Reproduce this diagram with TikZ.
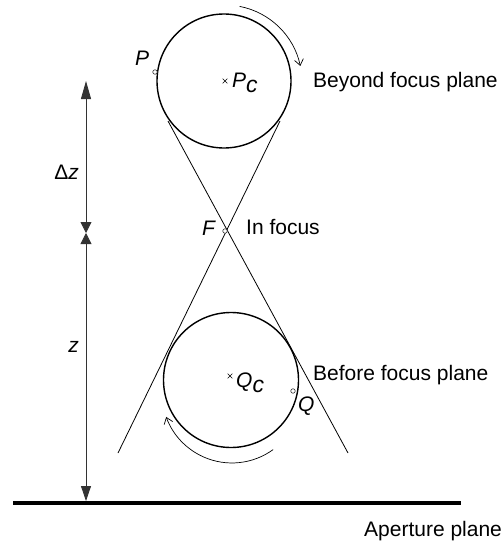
\documentclass[tikz,border=0pt]{standalone}
\usepackage{fontspec}
\setmainfont{Liberation Sans}
\usetikzlibrary{arrows.meta,shapes.misc}
\begin{document}
\begin{tikzpicture}[x=1pt,y=-1pt,
  lbl/.style={font=\fontsize{21}{24}\selectfont, inner sep=0pt},
  ring/.style={circle, draw, line width=1.4pt, inner sep=0pt, minimum size=134pt},
  ray/.style={line width=0.8pt},
  dim/.style={line width=0.8pt, draw=black!80},
  spin/.style={line width=0.7pt, -{Straight Barb[length=6pt,width=9pt]}},
  dotmark/.style={circle, draw=black!80, line width=0.6pt, inner sep=0pt, minimum size=4.5pt},
  xmark/.style={cross out, draw, line width=0.6pt, inner sep=0pt, minimum size=4pt},
]
\useasboundingbox (0,0) rectangle (501,543);
% circles
\node[ring] (topc) at (224,81) {};
\node[ring, minimum size=135pt] (botc) at (231,380) {};
% centres
\node[xmark] (pcx) at (225,81) {};
\node[xmark] (qcx) at (230,376) {};
% rays
\coordinate (a1) at (168,121);
\coordinate (a2) at (348,453);
\coordinate (b1) at (280,121);
\coordinate (b2) at (118,453);
\draw[ray] (a1) -- (a2);
\draw[ray] (b1) -- (b2);
% markers
\node[dotmark, fill=white] (pm) at (155,72) {};
\node[dotmark, fill=white] (fm) at (225,231) {};
\node[dotmark, fill=white] (qm) at (293,391) {};
% rotation arrows
\draw[spin] (239.7,6.4) arc[start angle=79, end angle=12, radius=77pt];
\draw[spin] (273.1,449.6) arc[start angle=-54, end angle=-160, radius=70pt];
% dimension line
\coordinate (dtop) at (86,81);
\coordinate (dmid) at (86,233);
\coordinate (dbot) at (86,501);
\draw[dim, {Triangle[length=18pt,width=10pt]}-{Triangle[length=11pt,width=11pt]}] (dtop) -- (dmid);
\draw[dim, {Triangle[length=11pt,width=11pt]}-{Triangle[length=15pt,width=10pt]}] (dmid) -- (dbot);
% aperture plane
\coordinate (ap1) at (13,503);
\coordinate (ap2) at (461,503);
\draw[line width=4.6pt] (ap1) -- (ap2);
% labels
\node[lbl, anchor=base west] (beyond) at (313,87) {Beyond focus plane};
\node[lbl, anchor=base west] (infocus) at (246,234) {In focus};
\node[lbl, anchor=base west] (before) at (313,380) {Before focus plane};
\node[lbl, anchor=base west] (aperture) at (364,536) {Aperture plane};
\node[lbl, anchor=base east] (dzl) at (79,179) {Δ\textit{z}};
\node[lbl, anchor=base east] (zl) at (79,352) {\textit{z}};
\node[lbl, anchor=base west] (fl) at (202,235) {\textit{F}};
\node[lbl, anchor=base west] (pl) at (135,66) {\textit{P}};
\node[lbl, anchor=base west] (pcl) at (232,88) {\textit{P}\raisebox{-5pt}{\fontsize{23}{23}\selectfont\textit{c}}};
\node[lbl, anchor=base west] (qcl) at (236,387) {\textit{Q}\raisebox{-5pt}{\fontsize{23}{23}\selectfont\textit{c}}};
\node[lbl, anchor=base west] (ql) at (298,411) {\textit{Q}};
\end{tikzpicture}
\end{document}
